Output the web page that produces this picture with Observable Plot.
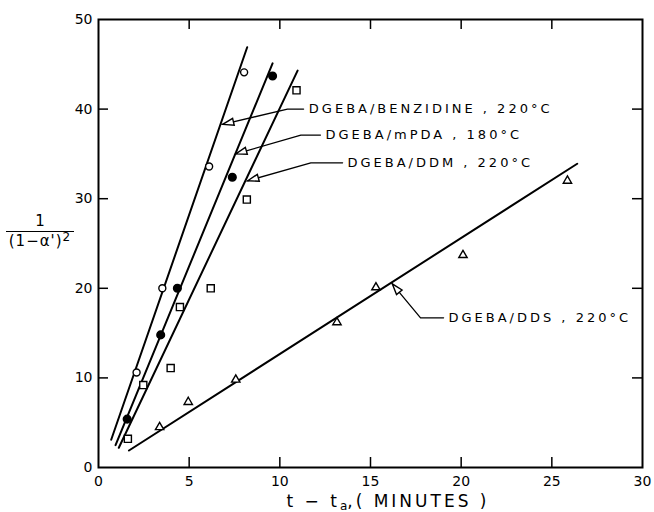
<!DOCTYPE html>
<html><head><meta charset="utf-8">
<script src="https://cdn.jsdelivr.net/npm/d3@7"></script>
<script src="https://cdn.jsdelivr.net/npm/@observablehq/plot@0.6"></script>
<style>
body{margin:0;background:#fff;}
#wrap{position:relative;width:654px;height:512px;font-family:"DejaVu Sans",sans-serif;color:#000;background:#fff;}
#wrap svg{display:block;}
#ylab{position:absolute;left:6px;top:212px;width:68px;text-align:center;font-size:15px;}
#ylab .num{display:block;line-height:19px;}
#ylab .den{display:block;border-top:1.5px solid #000;line-height:19px;letter-spacing:1px;}
#ylab sup{font-size:12px;vertical-align:5px;line-height:0;}
#xlab{position:absolute;left:238px;top:490px;width:300px;text-align:center;font-size:17px;letter-spacing:3px;line-height:22px;white-space:nowrap;}
#xlab sub{font-size:12px;letter-spacing:0;vertical-align:-3px;}
g[aria-label="text"] text{letter-spacing:3px;}
</style></head>
<body><div id="wrap"><div id="ylab"><span class="num">1</span><span class="den">(1−α')<sup>2</sup></span></div>
<div id="xlab">t − t<sub>a</sub>,( MINUTES )</div></div>
<script>
const xTicks = [0, 5, 10, 15, 20, 25, 30];
const yTicks = [0, 10, 20, 30, 40, 50];
const labels = ["DGEBA/BENZIDINE , 220°C", "DGEBA/mPDA , 180°C", "DGEBA/DDM , 220°C", "DGEBA/DDS , 220°C"];

// measured points
const benzX = [2.1, 3.52, 6.1, 8.03];
const benzY = [10.6, 20.0, 33.6, 44.1];
const mpdaX = [1.58, 3.43, 4.35, 7.38, 9.6];
const mpdaY = [5.4, 14.8, 20.0, 32.4, 43.7];
const ddmX = [1.62, 2.47, 3.98, 4.49, 6.19, 8.18, 10.92];
const ddmY = [3.2, 9.2, 11.1, 17.9, 20.0, 29.9, 42.1];
const ddsX = [3.37, 4.95, 7.57, 13.15, 15.3, 20.1, 25.86];
const ddsY = [4.5, 7.3, 9.8, 16.2, 20.1, 23.7, 32.0];

// fitted straight lines (end points as drawn)
const fitX0 = [0.7, 0.94, 1.12, 1.68];
const fitY0 = [3.1, 2.5, 2.2, 1.9];
const fitX1 = [8.2, 9.6, 10.98, 26.4];
const fitY1 = [46.9, 45.1, 44.3, 33.9];

// annotation leaders: arrow tip, elbow, end of horizontal, label start
const tipX = [6.85, 7.57, 8.23, 16.2];
const tipY = [38.3, 35.0, 32.0, 20.5];
const elbowX = [10.42, 11.16, 11.71, 17.76];
const elbowY = [40.0, 37.1, 34.0, 16.7];
const endX = [11.31, 12.24, 13.46, 19.03];
const labelX = [11.6, 12.52, 13.73, 19.3];

const W = 654, H = 490, mL = 98, mR = 12, mT = 19, mB = 23;
const sx = (W - mL - mR) / 30, sy = (H - mT - mB) / 50;
const tick = 10;

const pts = (xs, ys) => xs.map((x, i) => ({x, y: ys[i]}));
const fits = labels.flatMap((s, i) => [{s: i, x: fitX0[i], y: fitY0[i]}, {s: i, x: fitX1[i], y: fitY1[i]}]);
const leaders = labels.flatMap((s, i) => [
  {s: i, x: tipX[i], y: tipY[i]}, {s: i, x: elbowX[i], y: elbowY[i]}, {s: i, x: endX[i], y: elbowY[i]}]);
const heads = labels.map((s, i) => {
  const dxs = (tipX[i] - elbowX[i]) * sx, dys = -(tipY[i] - elbowY[i]) * sy;
  return {x: tipX[i], y: tipY[i], r: Math.atan2(dxs, -dys) * 180 / Math.PI};
});
const texts = labels.map((t, i) => ({x: labelX[i], y: elbowY[i], t}));
const arrowHead = {draw(ctx) { ctx.moveTo(0, 0); ctx.lineTo(-3.6, 11); ctx.lineTo(3.6, 11); ctx.closePath(); }};

const plot = Plot.plot({
  width: W, height: H, marginLeft: mL, marginRight: mR, marginTop: mT, marginBottom: mB,
  style: {fontFamily: "DejaVu Sans, sans-serif", fontSize: "14px", color: "#000", background: "#fff"},
  x: {domain: [0, 30]},
  y: {domain: [0, 50]},
  marks: [
    Plot.axisX(xTicks, {tickSize: 0, tickPadding: 9, label: null, fontSize: 14}),
    Plot.axisY(yTicks, {tickSize: 0, tickPadding: 6, label: null, fontSize: 14}),
    Plot.ruleX(xTicks.slice(1, -1), {x: d => d, y1: 0, y2: tick / sy, strokeWidth: 1.5}),
    Plot.ruleX(xTicks.slice(1, -1), {x: d => d, y1: 50, y2: 50 - tick / sy, strokeWidth: 1.5}),
    Plot.ruleY(yTicks.slice(1, -1), {y: d => d, x1: 0, x2: tick / sx, strokeWidth: 1.5}),
    Plot.ruleY(yTicks.slice(1, -1), {y: d => d, x1: 30, x2: 30 - tick / sx, strokeWidth: 1.5}),
    Plot.frame({stroke: "#000", strokeWidth: 2}),
    Plot.line(fits, {x: "x", y: "y", z: "s", stroke: "#000", strokeWidth: 2}),
    Plot.line(leaders, {x: "x", y: "y", z: "s", stroke: "#000", strokeWidth: 1.3}),
    Plot.dot(heads, {x: "x", y: "y", rotate: "r", symbol: arrowHead, fill: "#fff", stroke: "#000", strokeWidth: 1.4}),
    Plot.dot(pts(benzX, benzY), {x: "x", y: "y", r: 3.5, fill: "#fff", stroke: "#000", strokeWidth: 1.4}),
    Plot.dot(pts(mpdaX, mpdaY), {x: "x", y: "y", r: 3.8, fill: "#000", stroke: "#000"}),
    Plot.dot(pts(ddmX, ddmY), {x: "x", y: "y", r: 4, symbol: "square", fill: "#fff", stroke: "#000", strokeWidth: 1.4}),
    Plot.dot(pts(ddsX, ddsY), {x: "x", y: "y", r: 3.1, symbol: "triangle", fill: "#fff", stroke: "#000", strokeWidth: 1.4}),
    Plot.text(texts, {x: "x", y: "y", text: "t", textAnchor: "start", fontSize: 13})
  ]
});
document.getElementById("wrap").prepend(plot);
</script>
</body></html>
